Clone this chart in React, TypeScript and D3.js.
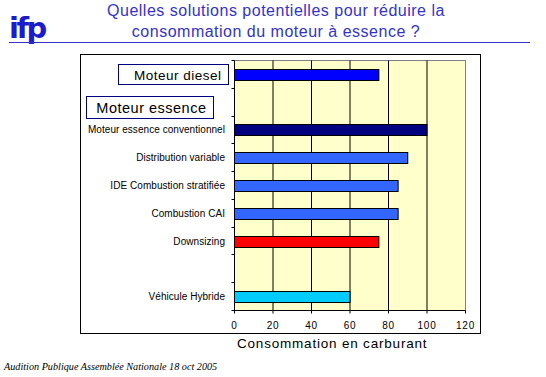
import React from "react";
import * as d3 from "d3";

const categories = [
  "Moteur diesel",
  "Moteur essence",
  "Moteur essence conventionnel",
  "Distribution variable",
  "IDE Combustion stratifiée",
  "Combustion  CAI",
  "Downsizing",
  "",
  "Véhicule Hybride",
];
const values: (number | null)[] = [75, null, 100, 90, 85, 85, 75, null, 60];
const barColors = ["#0000FF", "", "#000080", "#3366FF", "#3366FF", "#3366FF", "#FF0000", "", "#00CCFF"];
const boxedLabels = ["Moteur diesel", "Moteur essence"];
const xTicks = [0, 20, 40, 60, 80, 100, 120];
const titleLines = ["Quelles solutions potentielles pour réduire la", "consommation du moteur à essence ?"];
const xAxisTitle = "Consommation en carburant";
const footer = "Audition Publique Assemblée Nationale 18 oct 2005";

export default function App() {
  const left = 234.5, right = 465.5, top = 60.5, bottom = 310.5;
  const x = d3.scaleLinear().domain([0, 120]).range([left, right]);
  const y = d3.scaleBand<string>()
    .domain(categories.map((c, i) => i + ""))
    .range([top, bottom])
    .paddingInner(0.6)
    .paddingOuter(0.3);
  const step = y.step();
  const sans = "'Liberation Sans', Arial, sans-serif";
  const titleColor = "#3333CC";

  return (
    <svg width={546} height={377} style={{ position: "absolute", left: 0, top: 0 }}>
      <rect x={0} y={0} width={546} height={377} fill="#fff" />
      {/* logo */}
      <text x={9} y={38} fontFamily="'DejaVu Sans', sans-serif" fontWeight={900} fontSize={29}
        letterSpacing={-2.5} fill="#1C1CCC">ifp</text>
      {/* title */}
      {titleLines.map((t, i) => (
        <text key={i} x={276} y={15.5 + i * 21} textAnchor="middle" fontFamily={sans}
          fontSize={16} fill={titleColor} letterSpacing={0.5}>{t}</text>
      ))}
      <line x1={9} x2={530} y1={42.5} y2={42.5} stroke={titleColor} strokeWidth={1.2} />
      {/* outer chart box */}
      <rect x={80.5} y={54.5} width={400} height={279} fill="#fff" stroke="#000" strokeWidth={1} />
      {/* plot area */}
      <rect x={left} y={top} width={right - left} height={bottom - top} fill="#FFFFCC" stroke="#808080" strokeWidth={1} />
      {xTicks.filter(t => t > 0 && t < 120).map(t => (
        <line key={t} x1={x(t)} x2={x(t)} y1={top} y2={bottom} stroke="#000" strokeWidth={1} />
      ))}
      {/* bars */}
      {categories.map((c, i) => values[i] == null ? null : (
        <rect key={i} x={x(0)} y={Math.round(y(i + "")!) + 0.5} width={x(values[i]!) - x(0)}
          height={Math.round(y.bandwidth())} fill={barColors[i]} stroke="#000" strokeWidth={1} />
      ))}
      {/* axes */}
      <line x1={left} x2={left} y1={top} y2={bottom} stroke="#000" />
      <line x1={left} x2={right} y1={bottom} y2={bottom} stroke="#000" />
      {d3.range(categories.length + 1).map(i => {
        const yy = Math.round(top + i * step - 0.5) + 0.5;
        return <line key={i} x1={left - 3} x2={left} y1={yy} y2={yy} stroke="#000" />;
      })}
      {xTicks.map(t => (
        <g key={t}>
          <line x1={x(t)} x2={x(t)} y1={bottom} y2={bottom + 3} stroke="#000" />
          <text x={x(t)} y={329} textAnchor="middle" fontFamily={sans} fontSize={10}
            letterSpacing={0.8} fill="#000">{t}</text>
        </g>
      ))}
      {/* category labels */}
      {categories.map((c, i) => {
        if (!c) return null;
        const cy = y(i + "")! + y.bandwidth() / 2;
        if (boxedLabels.includes(c)) {
          const isDiesel = i === 0;
          const bx = isDiesel ? 118.5 : 86.5;
          const bw = isDiesel ? 110 : 127;
          const by = isDiesel ? 64.5 : 96.5;
          const bh = isDiesel ? 20 : 22;
          return (
            <g key={i}>
              <rect x={bx} y={by} width={bw} height={bh} fill="#fff" stroke="#000080" strokeWidth={1} />
              <text x={bx + bw - 7} y={by + bh / 2 + 5} textAnchor="end" fontFamily={sans}
                fontSize={isDiesel ? 13.5 : 14.5} letterSpacing={0.5} fill="#000">{c}</text>
            </g>
          );
        }
        return (
          <text key={i} x={225} y={cy + 3.5} textAnchor="end" fontFamily={sans} fontSize={10}
            letterSpacing={0.05} fill="#000">{c}</text>
        );
      })}
      {/* x axis title */}
      <text x={237} y={348} fontFamily={sans} fontSize={13.5} letterSpacing={0.8} fill="#000">{xAxisTitle}</text>
      {/* footer */}
      <text x={4} y={370} fontFamily="'Liberation Serif', 'Times New Roman', serif" fontStyle="italic"
        fontSize={10.2} fill="#000">{footer}</text>
    </svg>
  );
}
